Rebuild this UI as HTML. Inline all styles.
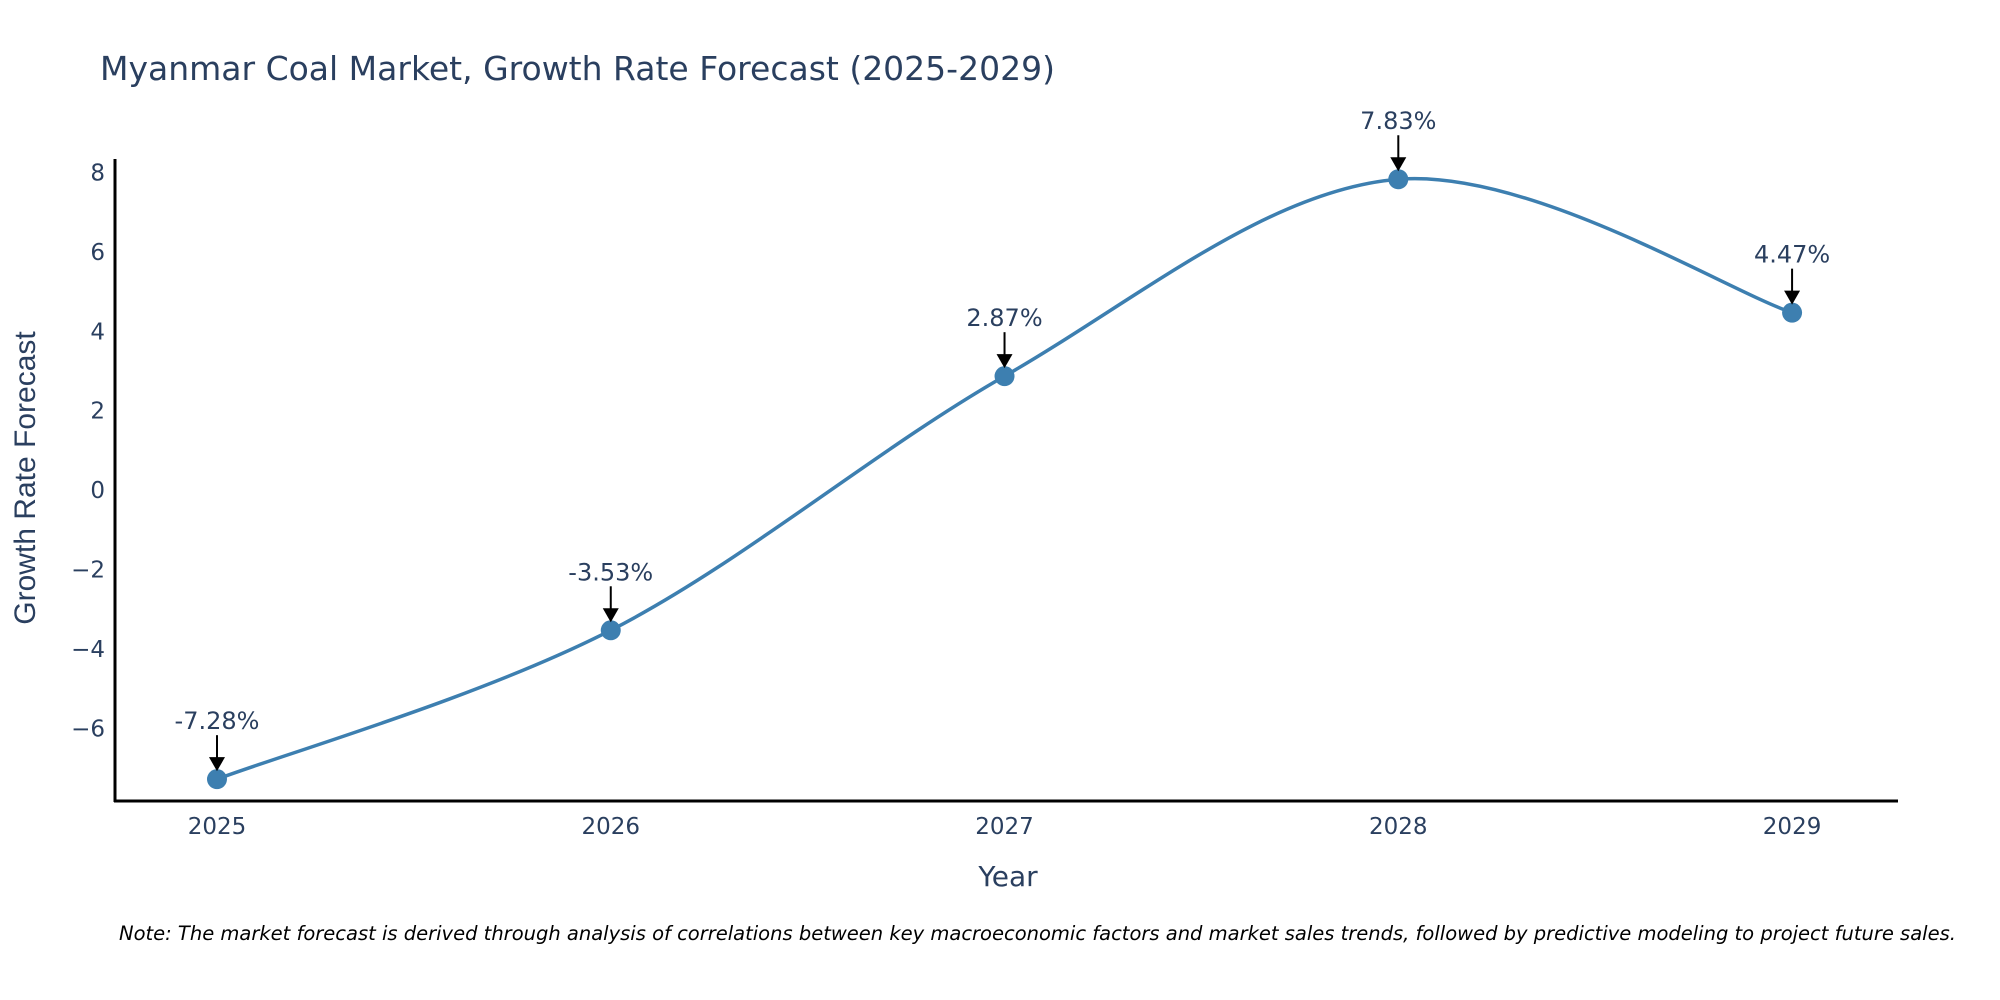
<!DOCTYPE html>
<html><head><meta charset="utf-8"><style>
body{margin:0;background:#fff;}
svg{display:block;font-family:"DejaVu Sans","Liberation Sans",sans-serif;}
</style></head><body>
<svg id="chart" width="2000" height="1000" viewBox="0 0 2000 1000">
<text x="100" y="80" font-size="33" fill="#2a3f5f">Myanmar Coal Market, Growth Rate Forecast (2025-2029)</text>
<g id="yticks"></g>
<g id="xticks"></g>
<g id="series"></g>
<g id="annots"></g>
<line x1="115" y1="159" x2="115" y2="802" stroke="#000" stroke-width="3"/>
<line x1="114" y1="801" x2="1898" y2="801" stroke="#000" stroke-width="3"/>
<text x="1008" y="886" font-size="28" fill="#2a3f5f" text-anchor="middle">Year</text>
<text transform="translate(35,478) rotate(-90)" font-size="30" fill="#2a3f5f" text-anchor="middle" font-family="Liberation Sans, sans-serif">Growth Rate Forecast</text>
<text x="119" y="940" font-size="19.5" font-style="italic" fill="#000">Note: The market forecast is derived through analysis of correlations between key macroeconomic factors and market sales trends, followed by predictive modeling to project future sales.</text>
</svg>
<script>
const years = [2025, 2026, 2027, 2028, 2029];
const growth = [-7.28, -3.53, 2.87, 7.83, 4.47];
const yTickValues = [-6, -4, -2, 0, 2, 4, 6, 8];
const NS = "http://www.w3.org/2000/svg";
const X0 = 115, X1 = 1898, Y0 = 801, Y1 = 159;
const xMin = 2024.741, xMax = 2029.269, yMin = -7.83, yMax = 8.34;
function xs(v){return X0 + (v - xMin) / (xMax - xMin) * (X1 - X0);}
function ys(v){return Y0 - (v - yMin) / (yMax - yMin) * (Y0 - Y1);}
function mk(tag, attrs, parent){const e=document.createElementNS(NS,tag);for(const k in attrs)e.setAttribute(k,attrs[k]);parent.appendChild(e);return e;}
const yt=document.getElementById('yticks');
yTickValues.forEach(v=>{
  const t=mk('text',{x:105,y:ys(v)+8,'font-size':23,fill:'#2a3f5f','text-anchor':'end'},yt);
  
  
  t.textContent = v < 0 ? '\u2212' + Math.abs(v) : String(v);
});
const xt=document.getElementById('xticks');
years.forEach(v=>{
  const t=mk('text',{x:xs(v),y:834,'font-size':23,fill:'#2a3f5f','text-anchor':'middle'},xt);
  
  
  t.textContent = String(v);
});
const pts = years.map((y,i)=>[xs(y), ys(growth[i])]);
let d = 'M' + pts[0][0] + ',' + pts[0][1];
const s = 1/6;
for(let i=0;i<pts.length-1;i++){
  const p0=pts[Math.max(i-1,0)], p1=pts[i], p2=pts[i+1], p3=pts[Math.min(i+2,pts.length-1)];
  const c1=[p1[0]+(p2[0]-p0[0])*s, p1[1]+(p2[1]-p0[1])*s];
  const c2=[p2[0]-(p3[0]-p1[0])*s, p2[1]-(p3[1]-p1[1])*s];
  d += ' C'+c1[0]+','+c1[1]+' '+c2[0]+','+c2[1]+' '+p2[0]+','+p2[1];
}
const sg=document.getElementById('series');
const line=mk('path',{d:d,fill:'none',stroke:'#3d7fb0','stroke-width':3.5},sg);


const ag=document.getElementById('annots');
pts.forEach((p,i)=>{
  const c=mk('circle',{cx:p[0],cy:p[1],r:10,fill:'#3d7fb0'},sg);
  
  
  const a=mk('line',{x1:p[0],y1:p[1]-44,x2:p[0],y2:p[1]-20,stroke:'#000','stroke-width':2},ag);
  
  
  const h=mk('polygon',{points:(p[0]-8)+','+(p[1]-22)+' '+(p[0]+8)+','+(p[1]-22)+' '+p[0]+','+(p[1]-8),fill:'#000'},ag);
  
  
  const t=mk('text',{x:p[0],y:p[1]-50,'font-size':24,fill:'#2a3f5f','text-anchor':'middle'},ag);
  
  
  t.textContent = growth[i].toFixed(2) + '%';
});
</script>
</body></html>
